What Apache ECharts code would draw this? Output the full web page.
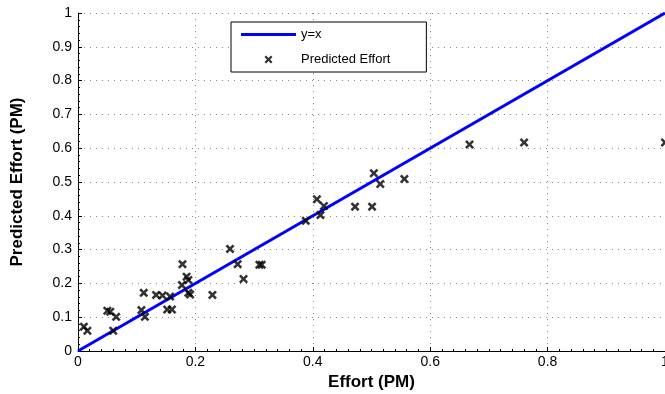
<!doctype html>
<html>
<head>
<meta charset="utf-8">
<script src="https://cdn.jsdelivr.net/npm/echarts@6/dist/echarts.min.js"></script>
<style>
  html, body { margin: 0; padding: 0; background: #fff; }
  #chart { width: 665px; height: 394px; }
</style>
</head>
<body>
<div id="chart"></div>
<script>
var effort = [0.010, 0.016, 0.050, 0.055, 0.065, 0.060, 0.108, 0.114, 0.112,
  0.133, 0.144, 0.157, 0.152, 0.160, 0.178, 0.185, 0.188, 0.177, 0.188, 0.191,
  0.229, 0.259, 0.272, 0.282, 0.309, 0.313, 0.388, 0.407, 0.419, 0.413,
  0.472, 0.501, 0.504, 0.515, 0.556, 0.667, 0.760, 1.000]
var predicted = [0.072, 0.060, 0.119, 0.116, 0.101, 0.060, 0.121, 0.101, 0.172,
  0.166, 0.164, 0.161, 0.123, 0.123, 0.257, 0.220, 0.210, 0.195, 0.172, 0.167,
  0.166, 0.302, 0.257, 0.213, 0.255, 0.255, 0.385, 0.449, 0.429, 0.402,
  0.427, 0.427, 0.526, 0.494, 0.509, 0.611, 0.617, 0.617]
var diagonal = [[0, 0], [1, 1]]
var xTicks = [0, 0.2, 0.4, 0.6, 0.8, 1]
var yTicks = [0, 0.1, 0.2, 0.3, 0.4, 0.5, 0.6, 0.7, 0.8, 0.9, 1]

var points = effort.map(function (v, i) { return [v, predicted[i]] })
var cross = 'path://M0,2 L2,0 L5,3 L8,0 L10,2 L7,5 L10,8 L8,10 L5,7 L2,10 L0,8 L3,5 Z'
var font = 'Liberation Sans, Arial, sans-serif'

var chart = echarts.init(document.getElementById('chart'))

var grid_line = { show: true, lineStyle: { color: '#888', type: [1, 5], width: 1 } }

chart.setOption({
  animation: false,
  grid: { left: 78, right: 0, top: 13, bottom: 43, containLabel: false, outerBoundsMode: 'none' },
  legend: {
    orient: 'vertical',
    left: 231, top: 22,
    itemWidth: 55, itemHeight: 8, itemGap: 12,
    padding: [6, 36, 6, 10],
    backgroundColor: '#fff',
    borderColor: '#000', borderWidth: 1,
    textStyle: { fontFamily: font, fontSize: 13, color: '#000' },
    data: [
      { name: 'y=x', icon: 'path://M0,0 L55,0 L55,3 L0,3 Z', itemStyle: { color: '#0000ff' } },
      { name: 'Predicted Effort', icon: cross, itemStyle: { color: '#000' } }
    ]
  },
  xAxis: {
    type: 'value', min: 0, max: 1, interval: 0.2,
    name: 'Effort (PM)', nameLocation: 'middle', nameGap: 22,
    nameTextStyle: { fontFamily: font, fontSize: 17, fontWeight: 'bold', color: '#000' },
    axisLine: { show: true, onZero: false, lineStyle: { color: '#000', width: 1 } },
    axisTick: { show: true, inside: true, length: 4, lineStyle: { color: '#000' } },
    minorTick: { show: true, splitNumber: 10, length: 2, lineStyle: { color: '#000' } },
    axisLabel: {
      fontFamily: font, fontSize: 14, color: '#000', margin: 4,
      formatter: function (v) { return xTicks.indexOf(+v.toFixed(1)) >= 0 ? String(+v.toFixed(1)) : '' }
    },
    splitLine: grid_line
  },
  yAxis: {
    type: 'value', min: 0, max: 1, interval: 0.1,
    name: 'Predicted Effort (PM)', nameLocation: 'middle', nameGap: 52,
    nameTextStyle: { fontFamily: font, fontSize: 17, fontWeight: 'bold', color: '#000' },
    axisLine: { show: true, onZero: false, lineStyle: { color: '#000', width: 1 } },
    axisTick: { show: true, inside: true, length: 4, lineStyle: { color: '#000' } },
    minorTick: { show: true, splitNumber: 5, length: 2, lineStyle: { color: '#000' } },
    axisLabel: {
      fontFamily: font, fontSize: 14, color: '#000', margin: 6,
      formatter: function (v) { return yTicks.indexOf(+v.toFixed(1)) >= 0 ? String(+v.toFixed(1)) : '' }
    },
    splitLine: grid_line
  },
  series: [
    {
      name: 'y=x', type: 'line', data: diagonal, symbol: 'none',
      lineStyle: { color: '#0000ff', width: 3 }, itemStyle: { color: '#0000ff' }, z: 3
    },
    {
      name: 'Predicted Effort', type: 'scatter', data: points,
      symbol: cross, symbolSize: 9, itemStyle: { color: '#000' }, z: 4
    }
  ]
})
</script>
</body>
</html>
